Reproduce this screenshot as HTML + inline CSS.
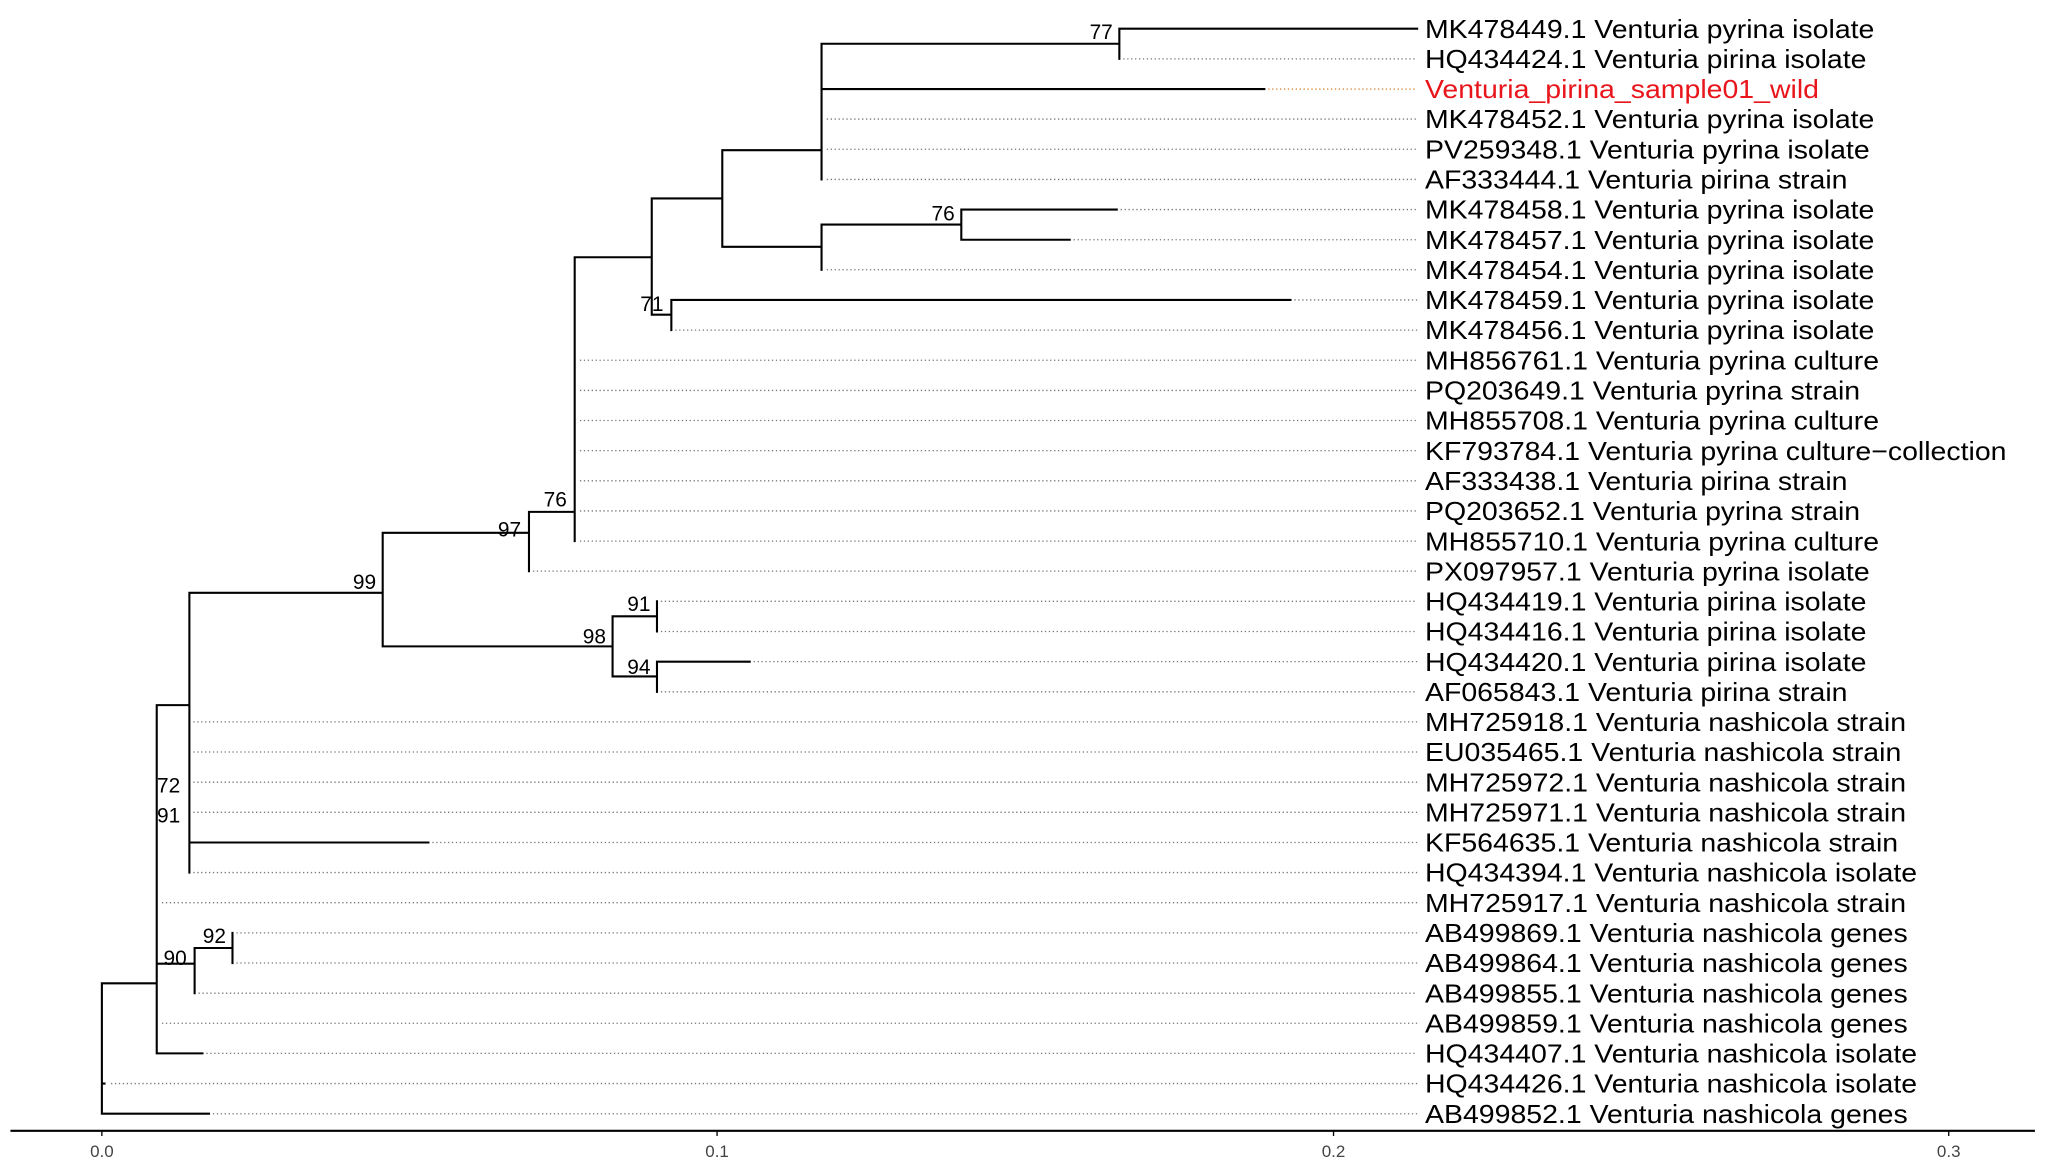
<!DOCTYPE html>
<html><head><meta charset="utf-8"><style>
html,body{margin:0;padding:0;background:#fff;}
svg{display:block;}
text{font-family:"Liberation Sans",Arial,sans-serif;}
.l{font-size:20px;fill:#000;}
.b{font-size:16px;fill:#000;text-anchor:end;}
.s{stroke:#000;stroke-width:1.6;fill:none;stroke-linecap:square;}
.d{stroke:#777;stroke-width:1;stroke-dasharray:1 2;fill:none;}
.a{font-size:13px;fill:#444;text-anchor:middle;}
</style></head><body>
<svg width="2048" height="1170" viewBox="0 0 1568 896" preserveAspectRatio="none" xmlns="http://www.w3.org/2000/svg">
<path class="s" d="
M78 753V852.9 M78 753H120 M78 829.8H80 M78 852.9H160
M120 540V806.7 M120 540H145 M120 738H149 M120 806.7H155
M149 726V760.6 M149 726H178
M178 714.4V737.5
M145 454V668.2 M145 454H293 M145 645.2H328
M293 408V495 M293 408H405 M293 495H469
M405 392V437.4 M405 392H440
M440 197V414.4 M440 197H499
M499 152V241 M499 152H553 M499 241H514
M514 229.7V252.8 M514 229.7H988
M553 115V189 M553 115H629 M553 189H629
M629 33.5V137.4 M629 33.5H857 M629 68.2H968
M857 22V45.1 M857 22H1085
M629 172V206.6 M629 172H736
M736 160.5V183.6 M736 160.5H855 M736 183.6H819
M469 472V518 M469 472H503 M469 518H503
M503 460.5V483.6
M503 506.7V529.8 M503 506.7H574
"/>
<path class="d" d="
M860 45.1H1085
M633 91.2H1085 M633 114.3H1085 M633 137.4H1085
M858 160.5H1085 M822 183.6H1085 M633 206.6H1085
M991 229.7H1085 M517 252.8H1085
M444 275.9H1085 M444 299H1085 M444 322H1085 M444 345.1H1085 M444 368.2H1085 M444 391.3H1085 M444 414.4H1085
M408 437.4H1085
M506 460.5H1085 M506 483.6H1085 M577 506.7H1085 M506 529.8H1085
M148 552.8H1085 M148 575.9H1085 M148 599H1085 M148 622.1H1085 M331 645.2H1085 M148 668.2H1085
M124 691.3H1085 M181 714.4H1085 M181 737.5H1085 M152 760.6H1085 M124 783.6H1085 M158 806.7H1085
M85 829.8H1085 M163 852.9H1085
"/>
<path d="M971 68.2H1085" stroke="#d9863a" stroke-width="1" stroke-dasharray="1 2"/>
<g class="l" transform="translate(1091,0) scale(1.09,1) translate(-1091,0)">
<text x="1091" y="29">MK478449.1 Venturia pyrina isolate</text>
<text x="1091" y="52.1">HQ434424.1 Venturia pirina isolate</text>
<text x="1091" y="75.2" style="fill:#e8151b">Venturia_pirina_sample01_wild</text>
<text x="1091" y="98.2">MK478452.1 Venturia pyrina isolate</text>
<text x="1091" y="121.3">PV259348.1 Venturia pyrina isolate</text>
<text x="1091" y="144.4">AF333444.1 Venturia pirina strain</text>
<text x="1091" y="167.5">MK478458.1 Venturia pyrina isolate</text>
<text x="1091" y="190.6">MK478457.1 Venturia pyrina isolate</text>
<text x="1091" y="213.6">MK478454.1 Venturia pyrina isolate</text>
<text x="1091" y="236.7">MK478459.1 Venturia pyrina isolate</text>
<text x="1091" y="259.8">MK478456.1 Venturia pyrina isolate</text>
<text x="1091" y="282.9">MH856761.1 Venturia pyrina culture</text>
<text x="1091" y="306">PQ203649.1 Venturia pyrina strain</text>
<text x="1091" y="329">MH855708.1 Venturia pyrina culture</text>
<text x="1091" y="352.1">KF793784.1 Venturia pyrina culture−collection</text>
<text x="1091" y="375.2">AF333438.1 Venturia pirina strain</text>
<text x="1091" y="398.3">PQ203652.1 Venturia pyrina strain</text>
<text x="1091" y="421.4">MH855710.1 Venturia pyrina culture</text>
<text x="1091" y="444.4">PX097957.1 Venturia pyrina isolate</text>
<text x="1091" y="467.5">HQ434419.1 Venturia pirina isolate</text>
<text x="1091" y="490.6">HQ434416.1 Venturia pirina isolate</text>
<text x="1091" y="513.7">HQ434420.1 Venturia pirina isolate</text>
<text x="1091" y="536.8">AF065843.1 Venturia pirina strain</text>
<text x="1091" y="559.8">MH725918.1 Venturia nashicola strain</text>
<text x="1091" y="582.9">EU035465.1 Venturia nashicola strain</text>
<text x="1091" y="606">MH725972.1 Venturia nashicola strain</text>
<text x="1091" y="629.1">MH725971.1 Venturia nashicola strain</text>
<text x="1091" y="652.2">KF564635.1 Venturia nashicola strain</text>
<text x="1091" y="675.2">HQ434394.1 Venturia nashicola isolate</text>
<text x="1091" y="698.3">MH725917.1 Venturia nashicola strain</text>
<text x="1091" y="721.4">AB499869.1 Venturia nashicola genes</text>
<text x="1091" y="744.5">AB499864.1 Venturia nashicola genes</text>
<text x="1091" y="767.6">AB499855.1 Venturia nashicola genes</text>
<text x="1091" y="790.6">AB499859.1 Venturia nashicola genes</text>
<text x="1091" y="813.7">HQ434407.1 Venturia nashicola isolate</text>
<text x="1091" y="836.8">HQ434426.1 Venturia nashicola isolate</text>
<text x="1091" y="859.9">AB499852.1 Venturia nashicola genes</text>
</g>
<text class="b" x="852" y="30">77</text>
<text class="b" x="731" y="169">76</text>
<text class="b" x="508" y="238">71</text>
<text class="b" x="434" y="388">76</text>
<text class="b" x="399" y="411">97</text>
<text class="b" x="288" y="451">99</text>
<text class="b" x="464" y="493">98</text>
<text class="b" x="498" y="468">91</text>
<text class="b" x="498" y="516">94</text>
<text class="b" x="138" y="607">72</text>
<text class="b" x="138" y="630">91</text>
<text class="b" x="173" y="722">92</text>
<text class="b" x="143" y="739">90</text>
<path d="M8 866H1558" stroke="#000" stroke-width="1.6"/>
<path d="M78 866v4 M549 866v4 M1021 866v4 M1492 866v4" stroke="#000" stroke-width="1"/>
<text class="a" x="78" y="886">0.0</text>
<text class="a" x="549" y="886">0.1</text>
<text class="a" x="1021" y="886">0.2</text>
<text class="a" x="1492" y="886">0.3</text>
</svg>
</body></html>
